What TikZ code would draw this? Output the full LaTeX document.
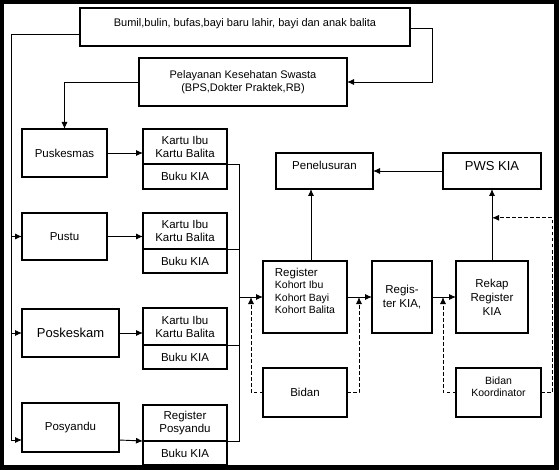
\documentclass[tikz,border=0pt]{standalone}
\usepackage{fontspec}
\setmainfont{Liberation Sans}
\usepackage{tikz}
\usetikzlibrary{arrows.meta, positioning, calc}
\tikzset{
    box/.style={rectangle, draw, line width=1.8pt, outer sep=0pt, inner sep=1pt, align=center, font=\fontsize{11}{13}\selectfont},
    card/.style={box, minimum width=84pt, font=\fontsize{11.5}{13}\selectfont},
    arrow/.style={->, line width=0.9pt, >={Latex[length=7pt,width=6pt]}},
    line/.style={line width=0.9pt},
    dasharrow/.style={->, line width=0.9pt, dashed, dash pattern=on 3.5pt off 2.5pt, >={Latex[length=7pt,width=6pt]}}
}

\begin{document}
\begin{tikzpicture}[x=1pt, y=-1pt]
    % Frame
    \fill[black] (0,0) rectangle (559,470);
    \fill[white] (4,4) rectangle (554,465);

    % Place nodes
    \node [box, minimum width=330pt, minimum height=38pt] (bumil) at (245,27) {Bumil,bulin, bufas,bayi baru lahir, bayi dan anak balita\\[-4pt]~};
    \node [box, minimum width=208pt, minimum height=48pt] (swasta) at (243,82) {Pelayanan Kesehatan Swasta\\(BPS,Dokter Praktek,RB)};

    \node [box, minimum width=85pt, minimum height=48pt, font=\fontsize{11.5}{13}\selectfont] (puskesmas) at (64.5,153) {Puskesmas};
    \node [box, minimum width=85pt, minimum height=47pt, font=\fontsize{11.5}{13}\selectfont] (pustu) at (64.5,236.5) {Pustu};
    \node [box, minimum width=97pt, minimum height=48pt, font=\fontsize{13}{15}\selectfont] (poskeskam) at (70.5,333) {Poskeskam};
    \node [box, minimum width=97pt, minimum height=49pt, font=\fontsize{11.5}{13}\selectfont] (posyandu) at (70.5,427.5) {Posyandu};

    \node [card, minimum height=35pt] (kartuA) at (185,146.5) {Kartu Ibu\\Kartu Balita};
    \node [card, minimum height=25pt, below=0pt of kartuA] (bukuA) {Buku KIA};
    \node [card, minimum height=36pt] (kartuB) at (185,231) {Kartu Ibu\\Kartu Balita};
    \node [card, minimum height=24pt, below=0pt of kartuB] (bukuB) {Buku KIA};
    \node [card, minimum height=37pt] (kartuC) at (185,326.5) {Kartu Ibu\\Kartu Balita};
    \node [card, minimum height=24pt, below=0pt of kartuC] (bukuC) {Buku KIA};
    \node [card, minimum height=36pt] (kartuD) at (185,423) {Register\\Posyandu};
    \node [card, minimum height=24pt, below=0pt of kartuD] (bukuD) {Buku KIA};

    \node [box, minimum width=84pt, minimum height=72pt, align=left, font=\fontsize{10.5}{12.3}\selectfont] (register) at (305,297) {{\fontsize{11.5}{12.3}\selectfont Register}\\Kohort Ibu\\Kohort Bayi\\Kohort Balita\\~};
    \node [box, minimum width=60pt, minimum height=72pt, font=\fontsize{11.5}{14}\selectfont] (regkia) at (402,297) {Regis-\\ter KIA,};
    \node [box, minimum width=72pt, minimum height=72pt, font=\fontsize{11.5}{14}\selectfont] (rekap) at (492,297) {Rekap\\Register\\KIA};
    \node [box, minimum width=97pt, minimum height=36pt, font=\fontsize{11.5}{13}\selectfont] (penelusuran) at (324.5,171) {Penelusuran\\[-2pt]~};
    \node [box, minimum width=98pt, minimum height=36pt, font=\fontsize{13}{15}\selectfont] (pws) at (492,171) {PWS KIA\\[-4pt]~};
    \node [box, minimum width=84pt, minimum height=49pt, font=\fontsize{11.5}{13}\selectfont] (bidan) at (305,392.5) {Bidan};
    \node [box, minimum width=85pt, minimum height=49pt, font=\fontsize{10.5}{12}\selectfont] (bidankoor) at (498.5,392.5) {Bidan\\Koordinator\\~};

    % Draw edges
    \draw [arrow] ([yshift=-7pt]bumil.west) -- ++(-69pt,0) |- ([yshift=-12.5pt]posyandu.west);
    \draw [arrow] ([xshift=-11pt]pustu.west) -- (pustu.west);
    \draw [arrow] ([xshift=-11pt]poskeskam.west) -- (poskeskam.west);
    \draw [arrow] ([yshift=-1pt]bumil.east) -- ++(22pt,0) |- (swasta.east);
    \draw [arrow] (swasta.west) -| (puskesmas.north);

    \draw [arrow] (puskesmas) -- (kartuA.west |- puskesmas);
    \draw [arrow] (pustu) -- (kartuB.west |- pustu);
    \draw [arrow] (poskeskam) -- (kartuC.west |- poskeskam);
    \draw [arrow] ([yshift=-12.5pt]posyandu.east) -- (kartuD.south west);

    \coordinate (trunk) at ([xshift=12pt]kartuA.south east);
    \draw [line] (kartuA.south east) -- (trunk) |- (kartuD.south east);
    \draw [line] (kartuB.south east) -- (trunk |- kartuB.south east);
    \draw [line] (kartuC.south east) -- (trunk |- kartuC.south east);
    \draw [arrow] (trunk |- register.west) -- (register.west);

    \draw [arrow] (register) -- (regkia);
    \draw [arrow] (regkia) -- (rekap);
    \draw [arrow] ([xshift=6pt]register.north) -- ([xshift=6pt]register.north |- penelusuran.south);
    \draw [arrow] (pws) -- (penelusuran);
    \draw [arrow] (rekap) -- (pws);

    \draw [dasharrow] (bidan.west) -| ([xshift=-12pt]register.west);
    \draw [dasharrow] (bidan.east) -| ([xshift=12pt]register.east);
    \draw [dasharrow] (bidankoor.west) -| ([xshift=-13pt]rekap.west);
    \coordinate (tap) at ($(rekap.north)!0.6!(pws.south)$);
    \draw [dasharrow] (bidankoor.east) -- ++(11pt,0) |- (tap);
\end{tikzpicture}
\end{document}
